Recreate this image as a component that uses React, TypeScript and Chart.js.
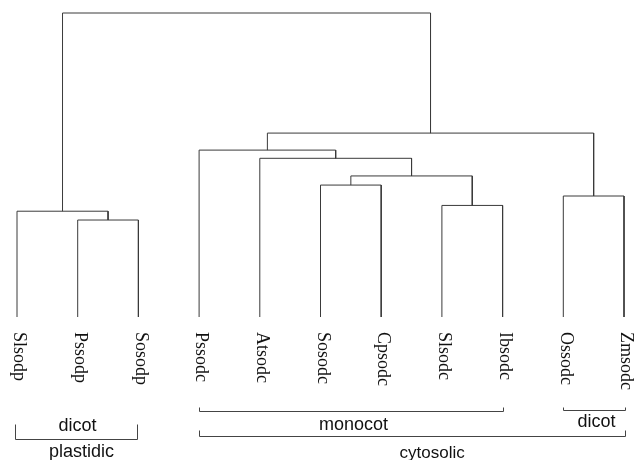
import React, { useEffect, useRef } from "react";
import { Chart, registerables } from "chart.js";

Chart.register(...registerables);

// Leaves (left to right)
const leafLabels = [
  "Slsodp", "Pssodp", "Sosodp", "Pssodc", "Atsodc", "Sosodc",
  "Cpsodc", "Slsodc", "Ibsodc", "Ossodc", "Zmsodc",
];

// Merges: ids 0..10 are leaves, each merge creates id 11, 12, ...
const mergeLeft = [1, 0, 5, 7, 13, 4, 3, 9, 17, 12];
const mergeRight = [2, 11, 6, 8, 14, 15, 16, 10, 18, 19];
const mergeHeight = [0.319, 0.348, 0.434, 0.367, 0.464, 0.522, 0.549, 0.398, 0.605, 1.0];

// Group brackets under the labels
const bracketNames = ["dicot", "monocot", "dicot", "cytosolic", "plastidic"];
const bracketFrom = [0, 3, 9, 3, 0];
const bracketTo = [2, 8, 10, 10, 2];

function buildSegments() {
  const xs: number[] = leafLabels.map((_, i) => i);
  const hs: number[] = leafLabels.map(() => 0);
  const sets: { x: number; y: number }[][] = [];
  for (let k = 0; k < mergeLeft.length; k++) {
    const a = mergeLeft[k];
    const b = mergeRight[k];
    const h = mergeHeight[k];
    sets.push([
      { x: xs[a], y: hs[a] },
      { x: xs[a], y: h },
      { x: xs[b], y: h },
      { x: xs[b], y: hs[b] },
    ]);
    xs.push((xs[a] + xs[b]) / 2);
    hs.push(h);
  }
  return sets;
}

const labelPlugin = {
  id: "dendroLabels",
  afterDraw(chart: any) {
    const ctx = chart.ctx as CanvasRenderingContext2D;
    const xs = chart.scales.x;
    const px = (v: number) => xs.getPixelForValue(v);
    ctx.save();
    // leaf labels, rotated clockwise
    ctx.fillStyle = "#111";
    ctx.font = '18px "Liberation Serif", "Times New Roman", serif';
    ctx.textBaseline = "middle";
    ctx.textAlign = "left";
    leafLabels.forEach((t, i) => {
      ctx.save();
      ctx.translate(px(i) + 2, 332);
      ctx.rotate(Math.PI / 2);
      ctx.fillText(t, 0, 0);
      ctx.restore();
    });

    ctx.strokeStyle = "#444";
    ctx.lineWidth = 1;
    ctx.textAlign = "center";
    ctx.textBaseline = "alphabetic";
    const drawBracket = (x1: number, x2: number, y: number, tick: number) => {
      ctx.beginPath();
      ctx.moveTo(x1, y - tick);
      ctx.lineTo(x1, y);
      ctx.lineTo(x2, y);
      ctx.lineTo(x2, y - tick);
      ctx.stroke();
    };
    // plastidic dicot
    {
      const x1 = Math.round(px(bracketFrom[0])) - 1.5;
      const x2 = Math.round(px(bracketTo[0])) - 0.5;
      drawBracket(x1, x2, 439.5, 15);
      ctx.font = '18px "Liberation Sans", Arial, sans-serif';
      ctx.fillText(bracketNames[0], (x1 + x2) / 2 + 1, 431);
      ctx.fillText(bracketNames[4], (x1 + x2) / 2 + 5, 457);
    }
    // monocot
    {
      const x1 = Math.round(px(bracketFrom[1])) + 0.5;
      const x2 = Math.round(px(bracketTo[1])) + 0.5;
      drawBracket(x1, x2, 411.5, 4);
      ctx.font = '18px "Liberation Sans", Arial, sans-serif';
      ctx.fillText(bracketNames[1], (x1 + x2) / 2 + 2, 430);
    }
    // right dicot
    {
      const x1 = Math.round(px(bracketFrom[2])) + 0.5;
      const x2 = Math.round(px(bracketTo[2])) + 1.5;
      drawBracket(x1, x2, 410.5, 3);
      ctx.font = '18px "Liberation Sans", Arial, sans-serif';
      ctx.fillText(bracketNames[2], (x1 + x2) / 2 + 2, 427);
    }
    // cytosolic
    {
      const x1 = Math.round(px(bracketFrom[3])) + 0.5;
      const x2 = Math.round(px(bracketTo[3])) + 1.5;
      drawBracket(x1, x2, 436.5, 6);
      ctx.font = '17px "Liberation Sans", Arial, sans-serif';
      ctx.fillText(bracketNames[3], px(6.84), 458);
    }
    ctx.restore();
  },
};

export default function App() {
  const ref = useRef<HTMLCanvasElement | null>(null);
  useEffect(() => {
    if (!ref.current) return;
    const segs = buildSegments();
    const chart = new Chart(ref.current, {
      type: "scatter",
      data: {
        datasets: segs.map((d) => ({
          data: d,
          showLine: true,
          pointRadius: 0,
          borderColor: "#3a3a3a",
          borderWidth: 1,
          fill: false,
          tension: 0,
          clip: false as any,
        })),
      },
      options: {
        responsive: false,
        animation: false,
        layout: { padding: { left: 17, right: 12, top: 13, bottom: 143 } },
        plugins: { legend: { display: false }, tooltip: { enabled: false } },
        scales: {
          x: { type: "linear", min: 0, max: leafLabels.length - 1, display: false },
          y: { type: "linear", min: 0, max: 1, display: false },
        },
      },
      plugins: [labelPlugin],
    });
    return () => chart.destroy();
  }, []);
  return (
    <div style={{ position: "fixed", left: 0, top: 0, width: 636, height: 460, background: "#fff" }}>
      <canvas ref={ref} width={636} height={460} />
    </div>
  );
}
